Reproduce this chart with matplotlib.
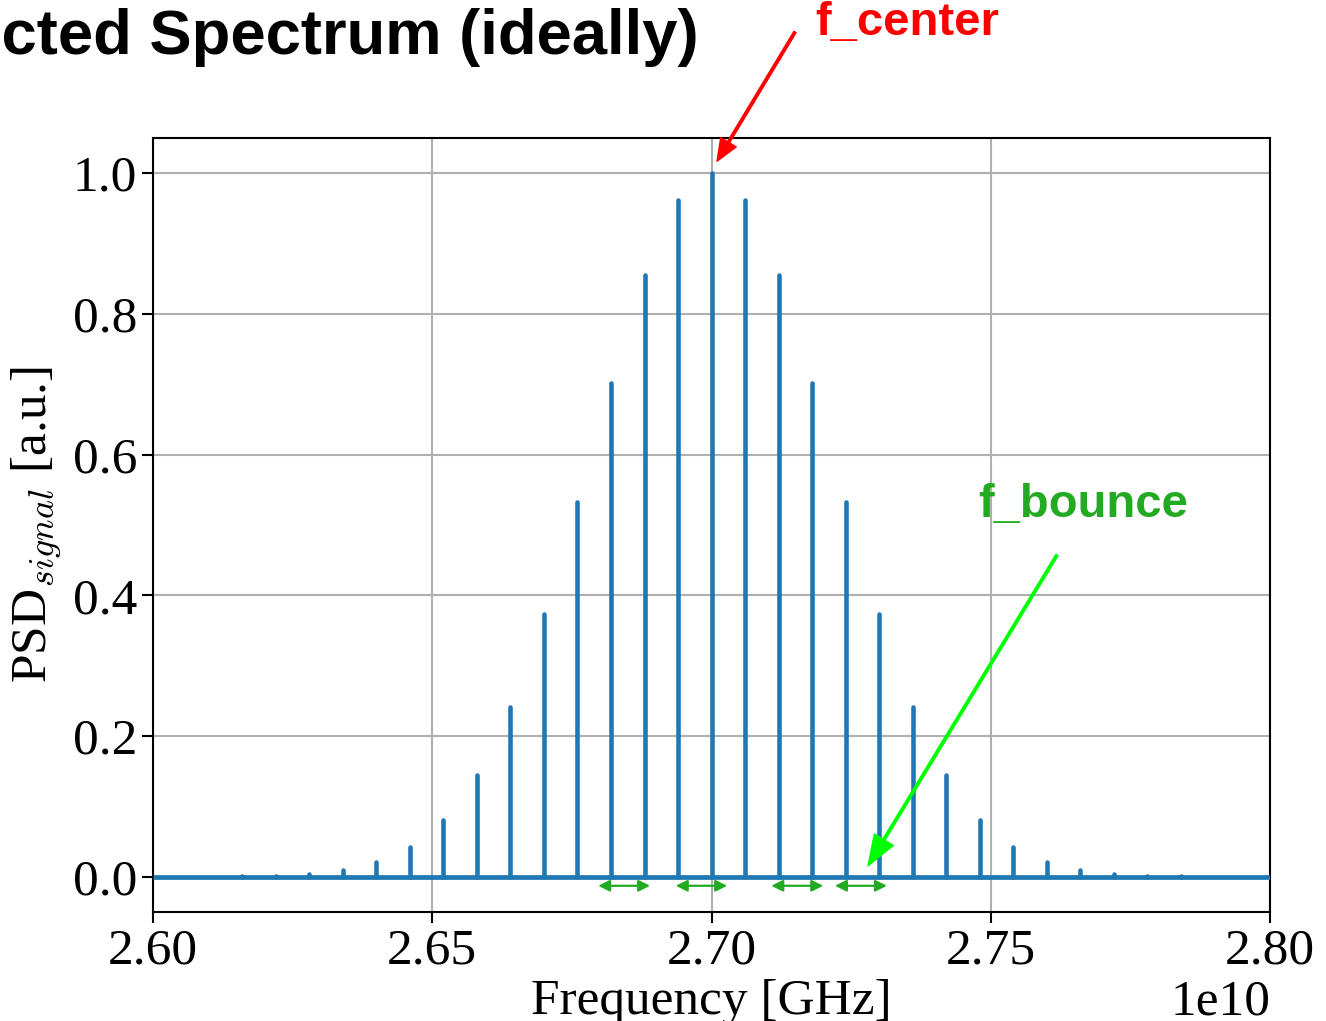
"""
Expected spectrum: comb of lines around f_center spaced by f_bounce.
"""
import matplotlib
matplotlib.use('Agg')
import matplotlib.pyplot as plt
from matplotlib import rcParams

rcParams['font.family'] = 'serif'
rcParams['font.serif'] = ['Liberation Serif', 'DejaVu Serif']
rcParams['mathtext.fontset'] = 'cm'
rcParams['font.size'] = 37

# line frequencies (units of 1e10 Hz) and normalised PSD
freq_1e10 = [2.604, 2.610, 2.616, 2.622, 2.628, 2.634, 2.640, 2.646, 2.652,
             2.658, 2.664, 2.670, 2.676, 2.682, 2.688, 2.694, 2.700, 2.706,
             2.712, 2.718, 2.724, 2.730, 2.736, 2.742, 2.748, 2.754, 2.760,
             2.766, 2.772, 2.778, 2.784, 2.790, 2.796]
psd = [0.0, 0.0002, 0.0005, 0.0015, 0.004, 0.010, 0.021, 0.043, 0.081,
       0.145, 0.241, 0.373, 0.532, 0.702, 0.855, 0.962, 1.0, 0.962,
       0.855, 0.702, 0.532, 0.373, 0.241, 0.145, 0.081, 0.043, 0.021,
       0.010, 0.004, 0.0015, 0.0005, 0.0002, 0.0]

# spacing markers under the baseline (units of 1e10 Hz)
bounce_marks = [(2.6797, 2.6890), (2.6936, 2.7028), (2.7107, 2.7200), (2.7221, 2.7314)]

freqs = [f * 1e10 for f in freq_1e10]

fig = plt.figure(figsize=(13.26, 10.21), dpi=100)
ax = fig.add_axes([0.1154, 0.1068, 0.8424, 0.758])

ax.hlines(0, 2.6e10, 2.8e10, color='#1f77b4', lw=3.4, zorder=3)
ax.vlines(freqs, 0, psd, color='#1f77b4', lw=3.3, zorder=3, capstyle='round')

ax.set_xlim(2.6e10, 2.8e10)
ax.set_ylim(-0.05, 1.05)
ax.set_xticks([2.60e10, 2.65e10, 2.70e10, 2.75e10, 2.80e10])
ax.set_yticks([0.0, 0.2, 0.4, 0.6, 0.8, 1.0])
ax.grid(True, color='#b0b0b0', lw=1.5)
ax.set_axisbelow(True)
for s in ax.spines.values():
    s.set_linewidth(1.5)
ax.tick_params(length=8, width=1.5)
ax.xaxis.get_offset_text().set_fontsize(37)

ax.set_xlabel('Frequency [GHz]', labelpad=3)
ax.set_ylabel('PSD$_{signal}$ [a.u.]', labelpad=6)

for a, b in bounce_marks:
    ax.annotate('', xy=(b * 1e10, -0.0128), xytext=(a * 1e10, -0.0128),
                arrowprops=dict(arrowstyle='<|-|>', color='#22aa22', lw=1.6,
                                mutation_scale=17, shrinkA=0, shrinkB=0))

# f_center arrow
ax.annotate('', xy=(2.70098e10, 1.017), xycoords='data',
            xytext=(795, 989), textcoords='figure pixels',
            arrowprops=dict(color='red', width=1.8, headwidth=13, headlength=16, shrink=0))
fig.text(815 / 1326, 1 - 35 / 1021, 'f_center', color='red', fontsize=34,
         fontweight='bold', family='Liberation Sans', va='baseline')

# f_bounce arrow
ax.annotate('', xy=(2.72802e10, 0.0156), xycoords='data',
            xytext=(1057, 466), textcoords='figure pixels',
            arrowprops=dict(color='#00ff00', width=1.8, headwidth=16, headlength=22, shrink=0))
fig.text(978 / 1326, 1 - 517 / 1021, 'f_bounce', color='#22aa22', fontsize=34,
         fontweight='bold', family='Liberation Sans', va='baseline')

fig.text(-150 / 1326, 1 - 54 / 1021, 'Expected Spectrum (ideally)', fontsize=45.6,
         fontweight='bold', family='Liberation Sans', va='baseline')

fig.savefig('out.png', dpi=100)
